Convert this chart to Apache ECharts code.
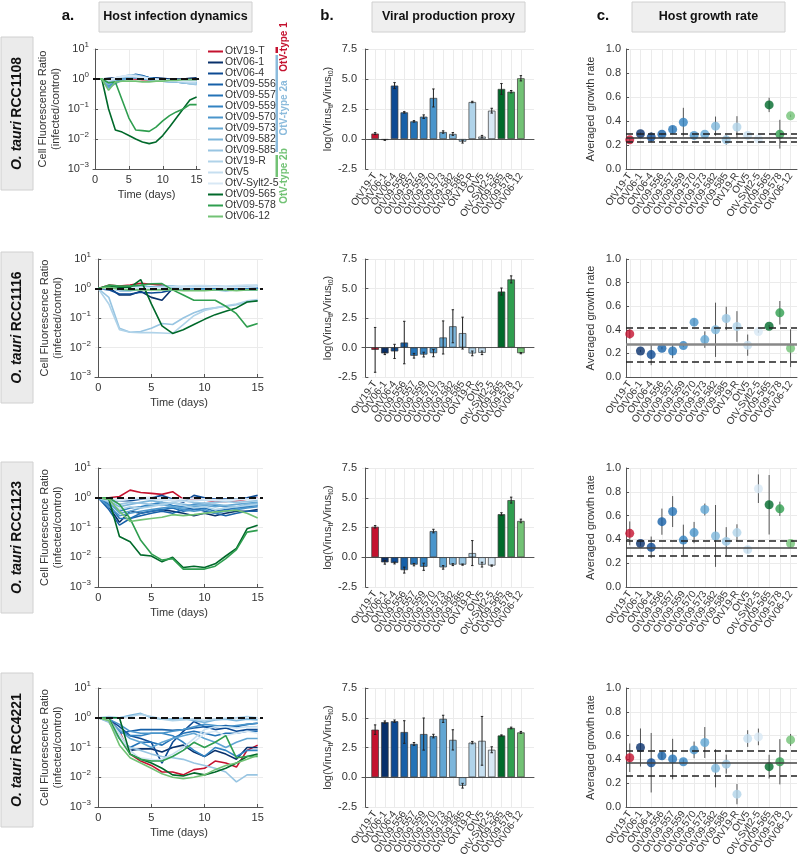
<!DOCTYPE html>
<html>
<head>
<meta charset="utf-8">
<script src="https://cdn.jsdelivr.net/npm/echarts@6/dist/echarts.min.js"></script>
<style>
html, body { margin: 0; background: #fff; }
#main { width: 800px; height: 859px; }
</style>
</head>
<body>
<div id="main"></div>
<script>
const strains = ['OtV19-T','OtV06-1','OtV06-4','OtV09-556','OtV09-557','OtV09-559','OtV09-570','OtV09-573','OtV09-582','OtV09-585','OtV19-R','OtV5','OtV-Sylt2-5','OtV09-565','OtV09-578','OtV06-12'];
const strainColors = ['#c4122f','#08306b','#0d4a93','#1760a8','#2473b7','#3383c2','#4a95cb','#62a6d3','#7db6db','#98c5e2','#b0d3e9','#c6dff0','#d8e8f5','#00692a','#2f9e4f','#72c275'];
const hosts = ['RCC1108','RCC1116','RCC1123','RCC4221'];
const days = [0,1,2,3,4,5,6,7,8,9,10,11,12,13,14,15];
const strainIdx = [1,2,3,4,5,6,7,8,9,10,11,12,13,14,15,16];

// cell fluorescence ratio (infected/control), one row per strain
const dyn1108 = [
  [1,1.0,0.95,1.0,1.05,1.0,1.0,0.95,0.95,0.9,0.9,0.95,0.9,0.95,0.9,0.9],
  [1,1,1.05,1.1,1.15,1.1,1.2,1.1,1.05,1.1,1.05,1.0,1.0,1.0,1.05,1.1],
  [1,1,0.9,1.0,1.1,1.2,1.25,1.15,1.1,1.0,1.0,0.95,0.95,0.9,0.9,0.95],
  [1,1,0.8,0.95,1.1,1.2,1.45,1.3,1.1,1.05,0.95,0.9,0.85,0.85,0.8,0.8],
  [1,1,0.7,0.85,1.0,1.1,1.3,1.25,1.1,1.0,0.9,0.85,0.8,0.75,0.75,0.7],
  [1,1,0.6,0.8,1.0,1.05,1.15,1.1,1.0,0.95,0.9,0.85,0.85,0.8,0.8,0.75],
  [1,1,0.55,0.75,0.95,1.1,1.2,1.15,1.05,1.0,0.95,0.9,0.85,0.85,0.9,0.85],
  [1,1,0.5,0.7,0.9,1.05,1.1,1.0,0.95,0.9,0.85,0.8,0.8,0.75,0.7,0.7],
  [1,1,0.65,0.9,1.1,1.2,1.15,1.05,0.95,0.9,0.9,0.85,0.8,0.8,0.75,0.75],
  [1,1,0.75,0.95,1.2,1.35,1.3,1.1,1.0,0.9,0.85,0.8,0.8,0.75,0.7,0.65],
  [1,1,0.85,1.0,1.15,1.3,1.35,1.2,1.05,0.95,0.9,0.85,0.85,0.8,0.75,0.7],
  [1,1,0.9,1.05,1.2,1.25,1.2,1.1,1.0,0.95,0.9,0.9,0.85,0.85,0.8,0.8],
  [1,1,0.95,1.1,1.25,1.3,1.25,1.15,1.05,1.0,0.95,0.9,0.9,0.85,0.85,0.85],
  [1,1,0.1,0.02,0.017,0.013,0.01,0.008,0.007,0.008,0.013,0.025,0.05,0.1,0.2,0.25],
  [1,1,0.75,0.8,0.2,0.05,0.02,0.019,0.018,0.025,0.04,0.06,0.08,0.1,0.14,0.14],
  [1,1,0.42,0.8,0.85,0.85,0.85,0.8,0.8,0.85,0.85,0.9,0.9,0.95,0.95,0.95]
];
const dyn1116 = [
  [1,1.3,1.2,1.3,1.5,1.4,1.3,1.0,1.0,1.0,0.95,1.0,1.0,0.95,1.0,1.0],
  [1,1.1,0.6,0.6,0.8,0.5,0.4,1.0,1.0,1.05,1.1,1.1,1.05,1.0,1.05,1.1],
  [1,0.9,0.65,0.65,0.75,0.7,0.75,0.9,1.0,1.0,1.05,1.0,1.0,1.0,1.0,1.05],
  [1,1.1,0.95,1.0,1.1,1.05,1.0,0.9,0.95,1.0,1.0,1.0,0.95,1.0,1.0,1.0],
  [1,1.2,1.0,0.95,1.1,1.1,1.05,1.0,0.95,0.95,1.0,1.05,1.0,1.0,1.05,1.05],
  [1,1.15,0.9,0.9,1.0,1.0,0.95,0.9,0.9,0.95,0.95,0.95,0.9,0.9,0.95,1.0],
  [1,1.05,0.85,0.85,0.95,1.0,1.0,0.95,0.9,0.9,0.9,0.9,0.85,0.9,0.9,0.9],
  [1,1.1,1.1,1.2,1.2,1.15,1.15,1.1,1.1,1.15,1.2,1.2,1.15,1.15,1.2,1.25],
  [1,1.0,0.95,1.0,1.05,1.1,1.2,1.2,1.15,1.1,1.1,1.1,1.1,1.15,1.2,1.2],
  [1,0.5,0.045,0.033,0.035,0.045,0.065,0.06,0.1,0.15,0.2,0.22,0.25,0.28,0.35,0.4],
  [1,0.3,0.04,0.033,0.032,0.032,0.031,0.03,0.06,0.12,0.18,0.22,0.26,0.3,0.38,0.42],
  [1,1.0,0.9,0.95,1.0,1.05,1.1,1.15,1.2,1.25,1.25,1.2,1.2,1.25,1.3,1.3],
  [1,1.05,1.0,1.05,1.1,1.05,1.0,1.0,1.05,1.1,1.1,1.1,1.05,1.1,1.1,1.15],
  [1,1.2,1.1,1.1,2.0,0.3,0.054,0.03,0.04,0.06,0.09,0.13,0.17,0.22,0.35,0.38],
  [1,1.3,1.2,1.2,1.3,1.45,1.47,0.9,0.6,0.4,0.4,0.4,0.25,0.14,0.05,0.065],
  [1,1.1,0.95,0.9,0.9,0.9,0.9,0.9,0.85,0.85,0.85,0.9,0.9,0.85,0.9,0.9]
];
const dyn1123 = [
  [1,1.0,1.1,1.8,1.5,1.4,1.3,1.6,0.9,0.95,0.85,0.75,0.75,0.8,0.9,1.0],
  [1,0.5,0.15,0.35,0.3,0.35,0.4,0.35,0.3,0.25,0.3,0.25,0.3,0.35,0.35,0.4],
  [1,0.8,0.8,0.8,0.9,1.0,1.2,0.9,0.7,1.2,1.0,0.9,0.9,0.9,1.0,1.2],
  [1,0.4,0.12,0.2,0.25,0.3,0.35,0.3,0.4,0.45,0.35,0.3,0.25,0.3,0.35,0.35],
  [1,0.6,0.2,0.2,0.3,0.35,0.4,0.45,0.35,0.4,0.45,0.35,0.4,0.45,0.5,0.55],
  [1,0.7,0.35,0.45,0.5,0.6,0.7,0.55,0.5,0.6,0.65,0.55,0.5,0.45,0.5,0.6],
  [1,0.5,0.25,0.3,0.35,0.4,0.45,0.5,0.4,0.35,0.4,0.3,0.35,0.4,0.45,0.5],
  [1,0.7,0.3,0.35,0.45,0.55,0.6,0.5,0.45,0.5,0.55,0.5,0.55,0.6,0.65,0.7],
  [1,0.8,0.5,0.6,0.7,0.8,0.7,0.65,0.6,0.55,0.6,0.6,0.55,0.5,0.6,0.65],
  [1,0.9,0.6,0.7,0.65,0.6,0.55,0.7,0.8,0.7,0.65,0.7,0.75,0.7,0.75,0.8],
  [1,0.75,0.4,0.5,0.45,0.5,0.6,0.7,0.55,0.45,0.5,0.4,0.45,0.5,0.55,0.6],
  [1,0.9,0.8,0.9,0.95,0.9,0.85,0.8,0.75,0.8,0.85,0.8,0.85,0.9,0.9,0.95],
  [1,0.95,0.85,0.9,1.0,1.05,0.95,0.85,0.9,0.95,0.9,0.85,0.8,0.85,0.9,0.95],
  [1,0.9,0.05,0.033,0.012,0.011,0.007,0.01,0.0045,0.005,0.0045,0.006,0.011,0.02,0.09,0.12],
  [1,1.0,0.6,0.2,0.037,0.013,0.008,0.009,0.004,0.004,0.004,0.005,0.009,0.018,0.07,0.08],
  [1,0.9,0.35,0.16,0.18,0.2,0.22,0.27,0.25,0.27,0.3,0.33,0.36,0.38,0.3,0.21]
];
const dyn4221 = [
  [1,1,0.35,0.06,0.035,0.025,0.015,0.015,0.012,0.018,0.02,0.035,0.03,0.022,0.08,0.12],
  [1,0.9,0.25,0.08,0.09,0.09,0.07,0.1,0.12,0.07,0.05,0.08,0.06,0.04,0.1,0.1],
  [1,0.9,0.5,0.25,0.2,0.15,0.03,0.15,0.35,0.75,0.5,0.4,0.45,0.35,0.4,0.4],
  [1,0.8,0.3,0.35,0.4,0.4,0.4,0.38,0.4,0.45,0.5,0.5,0.55,0.5,0.6,0.65],
  [1,0.75,0.2,0.1,0.15,0.15,0.12,0.2,0.3,0.35,0.3,0.25,0.3,0.3,0.35,0.35],
  [1,0.85,0.35,0.25,0.25,0.3,0.3,0.25,0.15,0.08,0.05,0.1,0.08,0.05,0.08,0.08],
  [1,0.9,0.6,0.35,0.3,0.3,0.3,0.35,0.4,0.5,0.6,0.55,0.5,0.55,0.6,0.65],
  [1,0.8,0.4,0.2,0.15,0.1,0.15,0.2,0.25,0.3,0.2,0.15,0.1,0.15,0.2,0.2],
  [1,1.0,1.0,1.2,1.4,1.0,0.9,0.9,0.95,0.8,0.7,0.85,0.9,0.8,0.9,0.85],
  [1,0.7,0.2,0.1,0.08,0.06,0.05,0.045,0.04,0.03,0.025,0.02,0.015,0.007,0.012,0.012],
  [1,1.1,1.0,1.1,1.3,1.1,0.9,0.8,0.85,0.9,0.8,0.9,0.95,1.0,1.1,1.0],
  [1,0.8,0.3,0.08,0.04,0.035,0.04,0.06,0.1,0.2,0.4,0.5,0.5,0.45,0.5,0.5],
  [1,0.9,0.25,0.06,0.045,0.04,0.035,0.05,0.08,0.15,0.3,0.35,0.25,0.3,0.35,0.3],
  [1,1,1,0.06,0.04,0.03,0.02,0.012,0.011,0.014,0.012,0.015,0.02,0.03,0.05,0.06],
  [1,1,0.2,0.06,0.04,0.035,0.035,0.05,0.08,0.15,0.1,0.15,0.25,0.045,0.05,0.05],
  [1,0.8,0.12,0.045,0.03,0.02,0.013,0.01,0.009,0.01,0.012,0.018,0.025,0.03,0.04,0.055]
];

// viral production proxy log(Virus_tf / Virus_t0) and error
const prod1108 = [0.45,-0.08,4.45,2.22,1.47,1.86,3.42,0.58,0.42,-0.22,3.08,0.2,2.36,4.17,3.94,5.06];
const prodErr1108 = [0.08,0.03,0.25,0.06,0.06,0.15,0.75,0.1,0.12,0.12,0.06,0.1,0.2,0.45,0.1,0.22];
const prod1116 = [-0.2,-0.5,-0.33,0.42,-0.7,-0.6,-0.48,0.85,1.8,1.22,-0.5,-0.45,null,4.74,5.77,-0.48];
const prodErr1116 = [1.9,0.1,0.6,1.8,0.2,0.2,0.3,1.4,1.4,1.35,0.2,0.15,null,0.3,0.3,0.05];
const prod1123 = [2.56,-0.43,-0.48,-1.08,-0.62,-0.8,2.2,-0.85,-0.62,-0.62,0.35,-0.62,-0.7,3.62,4.8,3.05];
const prodErr1123 = [0.1,0.15,0.08,0.25,0.1,0.3,0.15,0.15,0.08,0.05,1.05,0.2,0.05,0.12,0.25,0.15];
const prod4221 = [4.0,4.63,4.71,3.8,2.8,3.63,3.46,4.91,3.14,-0.71,2.91,3.06,2.31,3.51,4.14,3.77];
const prodErr4221 = [0.4,0.1,0.1,0.95,0.12,1.35,0.15,0.3,0.85,0.2,0.1,2.05,0.25,0.05,0.07,0.08];

// averaged host growth rate and error; ref = [mean, lower, upper] of control
const growth1108 = [0.243,0.294,0.266,0.29,0.33,0.39,0.28,0.29,0.357,0.243,0.35,0.28,0.25,0.534,0.29,0.443];
const growthErr1108 = [0.01,0.01,0.04,0.01,0.03,0.12,0.01,0.01,0.08,0.04,0.09,0.01,0.01,0.06,0.12,0.01];
const ref1108 = [0.257,0.229,0.286];
const growth1116 = [0.365,0.22,0.19,0.244,0.22,0.266,0.465,0.317,0.40,0.496,0.428,0.27,0.385,0.43,0.544,0.244];
const growthErr1116 = [0.04,0.01,0.09,0.01,0.06,0.01,0.03,0.07,0.23,0.1,0.13,0.09,0.01,0.01,0.1,0.16];
const ref1116 = [0.283,0.133,0.425];
const growth1123 = [0.451,0.366,0.334,0.549,0.634,0.394,0.457,0.651,0.429,0.383,0.457,0.314,0.826,0.691,0.657,0.366];
const growthErr1123 = [0.1,0.02,0.09,0.11,0.13,0.13,0.09,0.05,0.26,0.12,0.07,0.03,0.12,0.25,0.06,0.03];
const ref1123 = [0.329,0.263,0.391];
const growth4221 = [0.414,0.5,0.372,0.43,0.403,0.38,0.48,0.542,0.325,0.36,0.108,0.575,0.589,0.339,0.38,0.564];
const growthErr4221 = [0.12,0.16,0.25,0.03,0.17,0.02,0.07,0.13,0.16,0.08,0.085,0.07,0.07,0.1,0.19,0.05];
const ref4221 = [0.367,0.264,0.472];

const rows = [
  { dyn: dyn1108, prod: prod1108, prodErr: prodErr1108, growth: growth1108, growthErr: growthErr1108, ref: ref1108 },
  { dyn: dyn1116, prod: prod1116, prodErr: prodErr1116, growth: growth1116, growthErr: growthErr1116, ref: ref1116 },
  { dyn: dyn1123, prod: prod1123, prodErr: prodErr1123, growth: growth1123, growthErr: growthErr1123, ref: ref1123 },
  { dyn: dyn4221, prod: prod4221, prodErr: prodErr4221, growth: growth4221, growthErr: growthErr4221, ref: ref4221 }
];

// layout
const FONT = '"Liberation Sans", Arial, sans-serif';
const rowTop = [49, 259, 468, 688];
const rowH = [120, 118, 119, 119];
const colALeft = [93, 95, 95, 95];
const colAWidth = [107, 168, 168, 168];
const rowBoxes = [[37, 153], [252, 151], [462, 151], [673, 154]];
const refSolid = [
  { color: '#333', width: 1.5 }, { color: '#888', width: 2.5 },
  { color: '#444', width: 1.5 }, { color: '#444', width: 1.5 }
];

const grid = [], xAxis = [], yAxis = [], series = [];
const split = { show: true, lineStyle: { color: '#ebebeb', width: 1 } };
const axLine = { show: true, lineStyle: { color: '#555', width: 1 } };
const lbl = { color: '#333', fontSize: 11 };

// an empty label sits at each end so that the min/max overlap check
// drops that blank one instead of a strain name
function catLabel(lo, hi) {
  return {
    customValues: [lo].concat(strainIdx, [hi]), rotate: 55, fontSize: 10, color: '#333', margin: 5,
    showMinLabel: false, showMaxLabel: false,
    formatter: function (v) { return v === Math.round(v) && v >= 1 && v <= 16 ? strains[v - 1] : ''; }
  };
}

function errorRenderer(capHalf, color) {
  return function (params, api) {
    const x = api.value(0), y = api.value(1), e = api.value(2);
    const p1 = api.coord([x, y + e]), p2 = api.coord([x, y - e]);
    const kids = [{ type: 'line', shape: { x1: p1[0], y1: p1[1], x2: p2[0], y2: p2[1] }, style: { stroke: color, lineWidth: 1 } }];
    if (capHalf) {
      kids.push({ type: 'line', shape: { x1: p1[0] - capHalf, y1: p1[1], x2: p1[0] + capHalf, y2: p1[1] }, style: { stroke: color, lineWidth: 1 } });
      kids.push({ type: 'line', shape: { x1: p2[0] - capHalf, y1: p2[1], x2: p2[0] + capHalf, y2: p2[1] }, style: { stroke: color, lineWidth: 1 } });
    }
    return { type: 'group', children: kids };
  };
}

rows.forEach(function (row, r) {
  const gA = r * 3, gB = r * 3 + 1, gC = r * 3 + 2;
  grid.push({ left: colALeft[r], top: rowTop[r], width: colAWidth[r], height: rowH[r], outerBoundsMode: 'none' });
  grid.push({ left: 362, top: rowTop[r], width: 172, height: rowH[r], outerBoundsMode: 'none' });
  grid.push({ left: 626, top: rowTop[r], width: 171, height: rowH[r], outerBoundsMode: 'none' });

  // a. host infection dynamics
  xAxis.push({
    gridIndex: gA, type: 'value', min: -0.3, max: 15.5,
    axisLine: axLine, splitLine: split,
    axisTick: { inside: true, length: 3, customValues: [0, 5, 10, 15], lineStyle: { color: '#555' } },
    axisLabel: Object.assign({ customValues: [0, 5, 10, 15], margin: 5, showMinLabel: true, showMaxLabel: true }, lbl),
    name: 'Time (days)', nameLocation: 'middle', nameGap: 20,
    nameTextStyle: { color: '#333', fontSize: 11 }
  });
  yAxis.push({
    gridIndex: gA, type: 'log', logBase: 10, min: 0.001, max: 10,
    axisLine: axLine, splitLine: split,
    axisTick: { inside: true, length: 3, lineStyle: { color: '#555' } },
    axisLabel: {
      color: '#333', margin: 4, showMinLabel: true, showMaxLabel: true,
      formatter: function (v) {
        const e = Math.round(Math.log10(v));
        return '{b|10}{s|' + (e < 0 ? '\u2212' + (-e) : e) + '}';
      },
      rich: { b: { fontSize: 11, color: '#333' }, s: { fontSize: 8, color: '#333', padding: [0, 0, 8, 0] } }
    },
    name: 'Cell Fluorescence Ratio\n(infected/control)', nameLocation: 'middle', nameGap: 31,
    nameTextStyle: { color: '#333', fontSize: 11, lineHeight: 13 }
  });
  row.dyn.forEach(function (vals, i) {
    series.push({
      name: strains[i], type: 'line', xAxisIndex: gA, yAxisIndex: gA,
      showSymbol: false, symbol: 'none', lineStyle: { width: 1.6, color: strainColors[i] },
      itemStyle: { color: strainColors[i] },
      data: days.map(function (d, k) { return [d, vals[k]]; })
    });
  });
  series.push({
    type: 'line', xAxisIndex: gA, yAxisIndex: gA, data: [], z: 5,
    markLine: { silent: true, symbol: ['none', 'none'], label: { show: false },
      lineStyle: { color: '#111', width: 2, type: [7, 4] }, data: [{ yAxis: 1 }] }
  });

  // b. viral production proxy
  xAxis.push({
    gridIndex: gB, type: 'value', min: -0.35, max: 17.35,
    axisLine: axLine, splitLine: split,
    axisTick: { show: false, customValues: strainIdx },
    axisLabel: catLabel(-0.3, 17.3)
  });
  yAxis.push({
    gridIndex: gB, type: 'value', min: -2.5, max: 7.5, interval: 2.5,
    axisLine: axLine, splitLine: split,
    axisTick: { inside: true, length: 3, lineStyle: { color: '#555' } },
    axisLabel: Object.assign({ margin: 5, showMinLabel: true, showMaxLabel: true, formatter: function (v) { return v.toFixed(1); } }, lbl),
    name: 'log(Virus{s|tf}/Virus{s|t0})', nameLocation: 'middle', nameGap: 21,
    nameTextStyle: { color: '#333', fontSize: 11,
      rich: { s: { fontSize: 7, color: '#333', verticalAlign: 'bottom', padding: [5, 0, 0, 0] } } }
  });
  const barData = [], errB = [];
  row.prod.forEach(function (v, i) {
    if (v === null) return;
    barData.push({ value: [i + 1, v], itemStyle: { color: strainColors[i] } });
    errB.push([i + 1, v, row.prodErr[i]]);
  });
  series.push({
    type: 'bar', xAxisIndex: gB, yAxisIndex: gB, barWidth: 7.5, data: barData,
    itemStyle: { borderColor: '#3a3a3a', borderWidth: 0.7 }
  });
  series.push({
    type: 'custom', xAxisIndex: gB, yAxisIndex: gB, z: 4, data: errB,
    renderItem: errorRenderer(1.2, '#222'), encode: { x: 0, y: 1 }
  });

  // c. host growth rate
  xAxis.push({
    gridIndex: gC, type: 'value', min: 0.65, max: 16.6,
    axisLine: axLine, splitLine: split,
    axisTick: { show: false, customValues: strainIdx },
    axisLabel: catLabel(0.7, 16.55)
  });
  yAxis.push({
    gridIndex: gC, type: 'value', min: 0, max: 1, interval: 0.2,
    axisLine: axLine, splitLine: split,
    axisTick: { inside: true, length: 3, lineStyle: { color: '#555' } },
    axisLabel: Object.assign({ margin: 5, showMinLabel: true, showMaxLabel: true, formatter: function (v) { return v.toFixed(1); } }, lbl),
    name: 'Averaged growth rate', nameLocation: 'middle', nameGap: 30,
    nameTextStyle: { color: '#333', fontSize: 11 }
  });
  series.push({
    type: 'custom', xAxisIndex: gC, yAxisIndex: gC, z: 2,
    data: row.growth.map(function (v, i) { return [i + 1, v, row.growthErr[i]]; }),
    renderItem: errorRenderer(0, '#555'), encode: { x: 0, y: 1 }
  });
  series.push({
    type: 'scatter', xAxisIndex: gC, yAxisIndex: gC, symbolSize: 9, z: 3,
    data: row.growth.map(function (v, i) { return { value: [i + 1, v], itemStyle: { color: strainColors[i] } }; }),
    markLine: {
      silent: true, symbol: ['none', 'none'], label: { show: false },
      data: [
        { yAxis: row.ref[0], lineStyle: { type: 'solid', color: refSolid[r].color, width: refSolid[r].width } },
        { yAxis: row.ref[1], lineStyle: { type: [7, 4], color: '#222', width: 1.5 } },
        { yAxis: row.ref[2], lineStyle: { type: [7, 4], color: '#222', width: 1.5 } }
      ]
    }
  });
});

const graphic = [];
// column headers
[[99, 'a.', 68, 'Host infection dynamics'], [372, 'b.', 327, 'Viral production proxy'], [632, 'c.', 603, 'Host growth rate']]
  .forEach(function (h) {
    graphic.push({ type: 'rect', shape: { x: h[0], y: 2, width: 153, height: 30 },
      style: { fill: '#efefef', stroke: '#d0d0d0', lineWidth: 1 } });
    graphic.push({ type: 'text', x: h[0] + 76.5, y: 17,
      style: { text: h[3], font: 'bold 12.5px ' + FONT, fill: '#111', align: 'center', verticalAlign: 'middle' } });
    graphic.push({ type: 'text', x: h[2], y: 16,
      style: { text: h[1], font: 'bold 15px ' + FONT, fill: '#111', align: 'center', verticalAlign: 'middle' } });
  });
// row labels
hosts.forEach(function (h, r) {
  const b = rowBoxes[r];
  graphic.push({ type: 'rect', shape: { x: 1, y: b[0], width: 32, height: b[1] },
    style: { fill: '#ebebeb', stroke: '#d0d0d0', lineWidth: 1 } });
  graphic.push({ type: 'text', x: 17, y: b[0] + b[1] / 2, rotation: Math.PI / 2,
    style: { text: '{i|O. tauri} {b|' + h + '}', align: 'center', verticalAlign: 'middle',
      rich: { i: { font: 'italic bold 14px ' + FONT, fill: '#111' }, b: { font: 'bold 14px ' + FONT, fill: '#111' } } } });
});
// OtV type brackets
[['#c4122f', 47, 6], ['#8bbbdc', 55, 97], ['#72c275', 155, 22]]
  .forEach(function (t) {
    graphic.push({ type: 'rect', shape: { x: 275.5, y: t[1], width: 2.5, height: t[2] }, style: { fill: t[0] } });
  });
[['#c4122f', 47, 'OtV-type 1'], ['#8bbbdc', 108, 'OtV-type 2a'], ['#72c275', 176, 'OtV-type 2b']]
  .forEach(function (t) {
    graphic.push({ type: 'text', x: 284, y: t[1], rotation: Math.PI / 2,
      style: { text: t[2], font: 'bold 10px ' + FONT, fill: t[0], align: 'center', verticalAlign: 'middle' } });
  });

const chart = echarts.init(document.getElementById('main'));
chart.setOption({
  animation: false,
  textStyle: { fontFamily: FONT },
  grid: grid,
  xAxis: xAxis,
  yAxis: yAxis,
  legend: {
    data: strains, orient: 'vertical', left: 208, top: 46, padding: 0,
    itemWidth: 15, itemHeight: 2, itemGap: 0, icon: 'rect', selectedMode: false,
    textStyle: { fontSize: 10.5, color: '#333', lineHeight: 8.3, padding: [0, 0, 0, -3] }
  },
  graphic: graphic,
  series: series
});
</script>
</body>
</html>
